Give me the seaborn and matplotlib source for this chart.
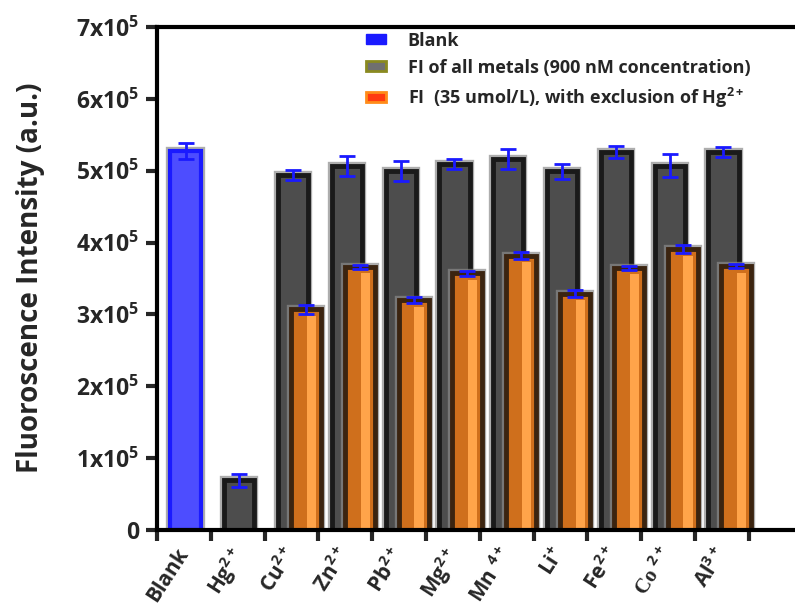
import numpy as np
import pandas as pd
import seaborn as sns
import matplotlib.pyplot as plt
import matplotlib.patheffects as pe
from matplotlib.patches import Patch
from matplotlib.ticker import FuncFormatter

# data
labels = ['Blank', 'Hg$^{2+}$', 'Cu$^{2+}$', 'Zn$^{2+}$', 'Pb$^{2+}$', 'Mg$^{2+}$',
          'Mn $^{4+}$', 'Li$^{+}$', 'Fe$^{2+}$', 'Co $^{2+}$', 'Al$^{3+}$']
blank_val = [528000]
blank_err = [11000]
metals_val = [69000, 494000, 507000, 500000, 509000, 516000, 499000, 526000, 507000, 526000]
metals_err = [9000, 7000, 14000, 14000, 7000, 14000, 11000, 8000, 16000, 7000]
excl_val = [307000, 366000, 320000, 357000, 382000, 329000, 365000, 391000, 367000]
excl_err = [6000, 3000, 4000, 3000, 5000, 5000, 3000, 5000, 3000]

sns.set_style('ticks')
plt.rcParams['font.family'] = ['Open Sans', 'DejaVu Sans']
plt.rcParams['font.weight'] = 'bold'
plt.rcParams['mathtext.fontset'] = 'custom'
plt.rcParams['mathtext.rm'] = 'Open Sans:bold'
plt.rcParams['mathtext.it'] = 'Open Sans:bold'
plt.rcParams['mathtext.bf'] = 'Open Sans:bold'
plt.rcParams['mathtext.default'] = 'rm'

fig = plt.figure(figsize=(7.95, 6.10), dpi=100)
ax = fig.add_axes([0.1975, 0.1311, 0.8025, 0.8246])

centers = np.arange(len(labels)) + 0.53
off = 0.24
w = 0.56

df_blank = pd.DataFrame({'x': centers[:1], 'y': blank_val})
df_met = pd.DataFrame({'x': centers[1:], 'y': metals_val})
df_exc = pd.DataFrame({'x': centers[2:] + off, 'y': excl_val})

halo = [pe.Stroke(linewidth=6, foreground='#8a8a8a', alpha=0.7), pe.Normal()]

sns.barplot(data=df_blank, x='x', y='y', native_scale=True, width=w, color='#4d4dff',
            edgecolor='#1a1aff', linewidth=3, saturation=1, errorbar=None, ax=ax)
sns.barplot(data=df_met, x='x', y='y', native_scale=True, width=w, color='#4d4d4d',
            edgecolor='#1a1a1a', linewidth=3.5, saturation=1, errorbar=None, ax=ax)
sns.barplot(data=df_exc, x='x', y='y', native_scale=True, width=w, color='#cf6f1c',
            edgecolor='#3b2410', linewidth=3.5, saturation=1, errorbar=None, ax=ax)
n2 = len(ax.patches)
# light stripe on the orange bars
df_str = pd.DataFrame({'x': centers[2:] + off + 0.1, 'y': excl_val})
sns.barplot(data=df_str, x='x', y='y', native_scale=True, width=0.17, color='#ffa44a',
            linewidth=0, saturation=1, errorbar=None, ax=ax)
for p in ax.patches[:n2]:
    p.set_path_effects(halo)
for p in ax.patches[n2:]:
    p.set_height(p.get_height() - 9000)

eb = dict(fmt='none', ecolor='#1a1aff', elinewidth=2, capsize=6, capthick=2, zorder=5)
ax.errorbar(df_blank['x'], df_blank['y'], yerr=blank_err, **eb)
ax.errorbar(df_met['x'], df_met['y'], yerr=metals_err, **eb)
ax.errorbar(df_exc['x'], df_exc['y'], yerr=excl_err, **eb)

ax.set_xlim(0, 11.86)
ax.set_ylim(0, 700000)
ax.set_xticks(np.arange(12))
ax.set_xticklabels([])
ax.set_xticks(centers - 0.2, minor=True)
ax.set_xticklabels(labels, minor=True, rotation=57, ha='right', va='top',
                   rotation_mode='anchor', fontsize=15, fontweight='bold')
ax.tick_params(axis='x', which='minor', length=0, pad=10)
ax.tick_params(axis='both', which='major', length=8, width=3, direction='out')
ax.get_xticklabels(minor=True)[9].set_fontfamily(['Liberation Serif', 'DejaVu Serif'])
ax.set_yticks(np.arange(0, 700001, 100000))
ax.yaxis.set_major_formatter(FuncFormatter(
    lambda v, p: '0' if v == 0 else f'{int(round(v / 1e5))}x10$^5$'))
for t in ax.get_yticklabels():
    t.set_fontsize(16.5)
    t.set_fontweight('bold')
ax.tick_params(axis='y', pad=5)
ax.set_xlabel('')
ax.set_ylabel('')
fig.text(0.038, 0.545, 'Fluoroscence Intensity (a.u.)', rotation=90, ha='center',
         va='center', fontsize=20, fontweight='bold')

for s in ['left', 'bottom', 'top']:
    ax.spines[s].set_linewidth(3)
    ax.spines[s].set_color('black')
ax.spines['right'].set_visible(False)

handles = [Patch(facecolor='#1a1aff', edgecolor='#1a1aff'),
           Patch(facecolor='#707070', edgecolor='#8a8a20', linewidth=2),
           Patch(facecolor='#ff3a10', edgecolor='#ff8c1a', linewidth=2)]
names = ['Blank', 'FI of all metals (900 nM concentration)',
         'FI  (35 umol/L), with exclusion of Hg$^{2+}$']
fig.legend(handles, names, loc='upper left', bbox_to_anchor=(0.44, 0.975),
           frameon=False, prop={'size': 13, 'weight': 'bold'},
           handlelength=1.1, handleheight=0.45, labelspacing=0.5, handletextpad=1.2)

fig.savefig('out.png', dpi=100)
